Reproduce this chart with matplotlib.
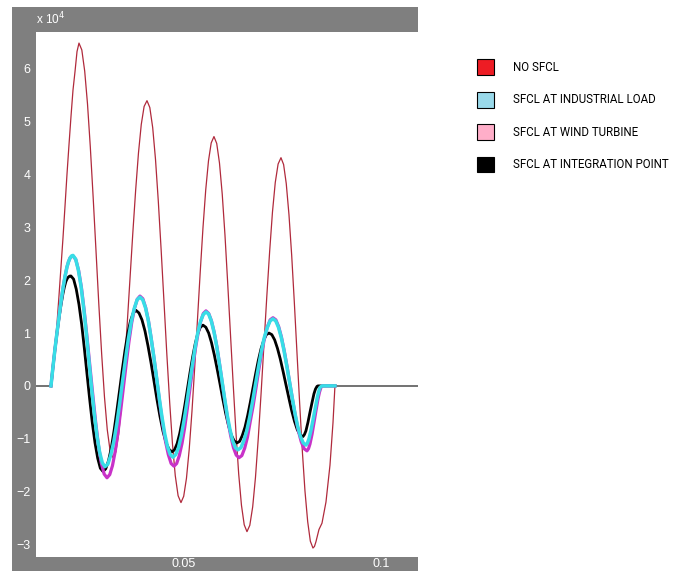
import matplotlib
matplotlib.use('Agg')
import numpy as np
import matplotlib.pyplot as plt
from matplotlib.patches import Patch, Rectangle

# fault current traces as (time in ms, current in units of 1e4 A)
no_sfcl = [
    (16.24, 0.0), (16.75, 0.33), (17.26, 0.7), (17.77, 1.18), (18.27, 1.7),
    (18.78, 2.25), (19.29, 2.8), (19.80, 3.4), (20.30, 4.0), (20.81, 4.56),
    (21.32, 5.1), (21.83, 5.6), (22.34, 5.95), (22.85, 6.33), (23.35, 6.49),
    (24.07, 6.36), (24.80, 5.96), (25.51, 5.34), (26.22, 4.53), (26.94, 3.58),
    (27.66, 2.57), (28.38, 1.55), (29.11, 0.60), (29.82, -0.21), (30.53, -0.83),
    (31.25, -1.23), (31.98, -1.36), (32.70, -1.25), (33.43, -0.91), (34.14, -0.37),
    (34.85, 0.33), (35.57, 1.15), (36.29, 2.02), (37.01, 2.89), (37.74, 3.71),
    (38.45, 4.41), (39.16, 4.95), (39.88, 5.29), (40.61, 5.40), (41.33, 5.27),
    (42.06, 4.89), (42.77, 4.29), (43.48, 3.50), (44.20, 2.58), (44.92, 1.60),
    (45.64, 0.61), (46.37, -0.31), (47.08, -1.10), (47.79, -1.70), (48.51, -2.08),
    (49.24, -2.21), (49.93, -2.09), (50.63, -1.75), (51.33, -1.20), (52.03, -0.48),
    (52.73, 0.36), (53.43, 1.26), (54.12, 2.15), (54.82, 2.99), (55.52, 3.71),
    (56.22, 4.26), (56.91, 4.60), (57.61, 4.72), (58.31, 4.59), (59.01, 4.22),
    (59.71, 3.63), (60.41, 2.85), (61.10, 1.94), (61.80, 0.98), (62.50, 0.02),
    (63.20, -0.89), (63.89, -1.67), (64.59, -2.26), (65.29, -2.63), (65.99, -2.76),
    (66.71, -2.64), (67.44, -2.29), (68.15, -1.73), (68.86, -0.99), (69.58, -0.13),
    (70.30, 0.78), (71.02, 1.69), (71.75, 2.55), (72.46, 3.29), (73.17, 3.85),
    (73.89, 4.20), (74.62, 4.32), (75.29, 4.19), (75.96, 3.83), (76.65, 3.24),
    (77.34, 2.47), (78.01, 1.58), (78.68, 0.63), (79.36, -0.33), (80.03, -1.22),
    (80.71, -1.99), (81.40, -2.57), (82.07, -2.94), (82.74, -3.07), (83.12, -3.04),
    (83.50, -2.95), (84.26, -2.72), (85.03, -2.60), (86.04, -2.20), (87.06, -1.50),
    (87.82, -0.70), (88.32, 0.0),
]

industrial_load = [
    (16.24, 0.0), (16.75, 0.36), (17.26, 0.7), (17.77, 1.01), (18.27, 1.3),
    (18.78, 1.59), (19.29, 1.85), (19.80, 2.07), (20.30, 2.25), (20.69, 2.35),
    (21.07, 2.42), (21.45, 2.46), (21.83, 2.47), (22.50, 2.40), (23.17, 2.20),
    (23.86, 1.89), (24.54, 1.47), (25.22, 0.99), (25.89, 0.47), (26.56, -0.05),
    (27.23, -0.53), (27.92, -0.95), (28.60, -1.26), (29.28, -1.46), (29.95, -1.53),
    (30.69, -1.48), (31.42, -1.31), (32.17, -1.06), (32.92, -0.73), (33.66, -0.34),
    (34.39, 0.08), (35.13, 0.49), (35.86, 0.88), (36.61, 1.21), (37.36, 1.46),
    (38.10, 1.63), (38.83, 1.68), (39.53, 1.63), (40.23, 1.48), (40.93, 1.24),
    (41.62, 0.92), (42.32, 0.56), (43.02, 0.17), (43.72, -0.23), (44.42, -0.59),
    (45.12, -0.91), (45.81, -1.15), (46.51, -1.30), (47.21, -1.35), (47.91, -1.30),
    (48.60, -1.17), (49.30, -0.95), (50.00, -0.66), (50.70, -0.33), (51.40, 0.03),
    (52.10, 0.38), (52.79, 0.71), (53.49, 1.00), (54.19, 1.22), (54.89, 1.35),
    (55.58, 1.40), (56.26, 1.36), (56.93, 1.23), (57.62, 1.02), (58.30, 0.75),
    (58.97, 0.43), (59.64, 0.10), (60.32, -0.24), (60.99, -0.56), (61.68, -0.83),
    (62.36, -1.04), (63.04, -1.17), (63.71, -1.21), (64.45, -1.17), (65.18, -1.04),
    (65.93, -0.85), (66.68, -0.59), (67.42, -0.29), (68.15, 0.03), (68.89, 0.35),
    (69.62, 0.65), (70.37, 0.91), (71.12, 1.10), (71.86, 1.23), (72.59, 1.27),
    (73.29, 1.23), (73.98, 1.11), (74.68, 0.92), (75.38, 0.67), (76.08, 0.38),
    (76.78, 0.08), (77.48, -0.23), (78.17, -0.52), (78.87, -0.77), (79.57, -0.96),
    (80.27, -1.08), (80.96, -1.12), (81.35, -1.08), (81.73, -1.0), (82.24, -0.84),
    (82.74, -0.65), (83.25, -0.45), (83.76, -0.25), (84.14, -0.12), (84.52, -0.03),
    (85.03, 0.0), (88.32, 0.0),
]

wind_turbine = [
    (16.24, 0.0), (16.75, 0.36), (17.26, 0.7), (17.77, 1.01), (18.27, 1.3),
    (18.78, 1.59), (19.29, 1.85), (19.80, 2.07), (20.30, 2.25), (20.69, 2.35),
    (21.07, 2.42), (21.45, 2.45), (21.83, 2.46), (22.55, 2.39), (23.27, 2.18),
    (23.99, 1.85), (24.70, 1.41), (25.42, 0.90), (26.14, 0.36), (26.87, -0.18),
    (27.59, -0.69), (28.30, -1.13), (29.01, -1.46), (29.74, -1.67), (30.46, -1.74),
    (31.16, -1.68), (31.85, -1.51), (32.55, -1.24), (33.25, -0.88), (33.95, -0.46),
    (34.64, -0.02), (35.34, 0.42), (36.04, 0.84), (36.74, 1.20), (37.44, 1.47),
    (38.14, 1.64), (38.83, 1.70), (39.56, 1.65), (40.28, 1.48), (40.99, 1.23),
    (41.70, 0.89), (42.43, 0.51), (43.15, 0.09), (43.87, -0.33), (44.59, -0.72),
    (45.31, -1.05), (46.02, -1.30), (46.74, -1.47), (47.46, -1.52), (48.14, -1.47),
    (48.81, -1.32), (49.50, -1.09), (50.18, -0.79), (50.85, -0.43), (51.52, -0.05),
    (52.20, 0.33), (52.87, 0.69), (53.56, 0.99), (54.24, 1.22), (54.91, 1.37),
    (55.58, 1.42), (56.28, 1.37), (56.98, 1.23), (57.68, 1.01), (58.38, 0.73),
    (59.08, 0.39), (59.77, 0.03), (60.47, -0.33), (61.17, -0.67), (61.87, -0.95),
    (62.56, -1.17), (63.26, -1.31), (63.96, -1.36), (64.69, -1.32), (65.41, -1.18),
    (66.12, -0.97), (66.83, -0.67), (67.55, -0.38), (68.27, -0.04), (69.00, 0.31),
    (69.72, 0.63), (70.43, 0.90), (71.14, 1.11), (71.87, 1.25), (72.59, 1.29),
    (73.32, 1.25), (74.04, 1.12), (74.75, 0.92), (75.46, 0.66), (76.18, 0.36),
    (76.90, 0.03), (77.63, -0.29), (78.35, -0.60), (79.06, -0.86), (79.77, -1.06),
    (80.50, -1.19), (81.22, -1.23), (81.60, -1.19), (81.98, -1.1), (82.49, -0.92),
    (82.99, -0.7), (83.50, -0.47), (84.01, -0.25), (84.39, -0.12), (84.77, -0.03),
    (85.03, 0.0), (88.32, 0.0),
]

integration_point = [
    (16.24, 0.0), (16.75, 0.36), (17.26, 0.7), (17.77, 1.0), (18.27, 1.28),
    (18.78, 1.53), (19.29, 1.75), (19.67, 1.88), (20.05, 1.98), (20.43, 2.04),
    (20.81, 2.07), (21.07, 2.08), (21.32, 2.08), (21.99, 2.02), (22.66, 1.83),
    (23.35, 1.54), (24.04, 1.16), (24.71, 0.71), (25.38, 0.23), (26.06, -0.25),
    (26.73, -0.70), (27.42, -1.08), (28.10, -1.37), (28.77, -1.56), (29.44, -1.62),
    (30.14, -1.57), (30.84, -1.42), (31.54, -1.18), (32.23, -0.86), (32.93, -0.49),
    (33.63, -0.10), (34.33, 0.30), (35.03, 0.67), (35.73, 0.99), (36.42, 1.23),
    (37.12, 1.38), (37.82, 1.43), (38.58, 1.38), (39.34, 1.25), (40.10, 1.04),
    (40.86, 0.76), (41.63, 0.44), (42.39, 0.09), (43.15, -0.26), (43.91, -0.58),
    (44.67, -0.86), (45.43, -1.07), (46.19, -1.20), (46.95, -1.25), (47.61, -1.21),
    (48.27, -1.09), (48.92, -0.90), (49.57, -0.65), (50.23, -0.36), (50.89, -0.05),
    (51.55, 0.26), (52.21, 0.55), (52.86, 0.80), (53.50, 0.99), (54.16, 1.11),
    (54.82, 1.15), (55.55, 1.11), (56.27, 1.00), (56.98, 0.82), (57.69, 0.59),
    (58.42, 0.32), (59.14, 0.04), (59.86, -0.25), (60.58, -0.52), (61.30, -0.75),
    (62.01, -0.93), (62.73, -1.04), (63.45, -1.08), (64.13, -1.05), (64.80, -0.94),
    (65.49, -0.78), (66.17, -0.56), (66.84, -0.31), (67.51, -0.04), (68.19, 0.23),
    (68.86, 0.48), (69.55, 0.70), (70.23, 0.86), (70.90, 0.97), (71.57, 1.00),
    (72.30, 0.97), (73.02, 0.87), (73.73, 0.71), (74.44, 0.51), (75.17, 0.27),
    (75.89, 0.02), (76.62, -0.23), (77.34, -0.47), (78.05, -0.67), (78.76, -0.83),
    (79.48, -0.93), (80.20, -0.96), (80.58, -0.92), (80.96, -0.85), (81.47, -0.69),
    (81.98, -0.5), (82.49, -0.32), (82.99, -0.15), (83.38, -0.06), (83.76, -0.01),
    (84.01, 0.0), (88.32, 0.0),
]

# zero current before the fault and after clearing
pre_fault = [(5.0, 0.0), (16.24, 0.0)]
post_fault = [(88.32, 0.0), (120.0, 0.0)]

legend_labels = ['NO SFCL', 'SFCL AT INDUSTRIAL LOAD', 'SFCL AT WIND TURBINE',
                 'SFCL AT INTEGRATION POINT']
legend_colors = ['#ed1c24', '#99d9ea', '#ffaec9', '#000000']

W, H = 674, 571
fig = plt.figure(figsize=(W / 100, H / 100), dpi=100)
fig.patch.set_facecolor('white')

# grey scope frame behind the axes
fig.add_artist(Rectangle((12 / W, 0), 406 / W, 1 - 7 / H, transform=fig.transFigure,
                         facecolor='#7f7f7f', edgecolor='none', zorder=0))

ax = fig.add_axes([36 / W, 1 - 557 / H, 382 / W, (557 - 32) / H])
ax.set_facecolor('white')
for s in ax.spines.values():
    s.set_visible(False)


def trace(pairs, **kw):
    t, i = zip(*pairs)
    ax.plot(np.asarray(t) / 1000.0, i, solid_joinstyle='round', **kw)


trace(pre_fault, color='#5a5a5a', lw=1.2)
trace(post_fault, color='#5a5a5a', lw=1.2)
trace(no_sfcl, color='#b02a3c', lw=0.9)
trace(integration_point, color='black', lw=2.0)
trace(wind_turbine, color='#c832c8', lw=2.3)
trace(industrial_load, color='#38dde6', lw=2.5)

ax.set_xlim(0.01244, 0.1094)
ax.set_ylim(-3.24, 6.70)
ax.set_xticks([0.05, 0.1])
ax.set_xticklabels(['0.05', '0.1'])
ax.set_yticks(range(-3, 7))
ax.tick_params(length=0, colors='white', labelsize=9, pad=4)
ax.tick_params(axis='x', pad=1)
for lab in ax.get_xticklabels() + ax.get_yticklabels():
    lab.set_family('Liberation Sans')

fig.text(36 / W, 1 - 24 / H, r'x 10$^{4}$', color='white', fontsize=8.5,
         family='Liberation Sans')

handles = [Patch(facecolor=c, edgecolor='black', lw=0.8) for c in legend_colors]
fig.legend(handles, legend_labels, loc='upper left', bbox_to_anchor=(467 / W, 1 - 49 / H),
           frameon=False, prop={'family': 'Roboto', 'size': 8.3},
           handlelength=1.48, handleheight=1.72, labelspacing=1.45, handletextpad=1.57)

fig.savefig('out.png', dpi=100, facecolor='white')
